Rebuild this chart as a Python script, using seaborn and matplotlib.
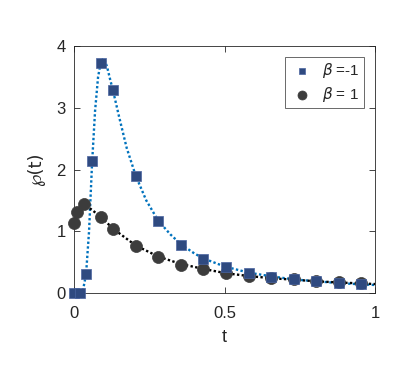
import matplotlib
matplotlib.use("Agg")
import matplotlib.pyplot as plt
import seaborn as sns
import pandas as pd

# beta = -1 markers
t_sq = [0.0, 0.02, 0.04, 0.06, 0.09, 0.13, 0.205, 0.28, 0.355, 0.43, 0.505, 0.58, 0.655, 0.73, 0.805, 0.88, 0.955]
p_sq = [0.0, 0.0, 0.30, 2.13, 3.72, 3.28, 1.90, 1.16, 0.78, 0.55, 0.42, 0.32, 0.26, 0.22, 0.19, 0.165, 0.14]
# beta = 1 markers
t_ci = [0.0, 0.01, 0.034, 0.09, 0.13, 0.205, 0.28, 0.355, 0.43, 0.505, 0.58, 0.655, 0.73, 0.805, 0.88, 0.955]
p_ci = [1.13, 1.31, 1.44, 1.23, 1.03, 0.76, 0.58, 0.46, 0.39, 0.32, 0.275, 0.24, 0.22, 0.19, 0.175, 0.155]
# dotted curves
t_bl = [0.0, 0.02, 0.03, 0.04, 0.05, 0.06, 0.07, 0.08, 0.09, 0.10, 0.11, 0.12, 0.13, 0.15, 0.175, 0.205, 0.24,
        0.28, 0.32, 0.355, 0.40, 0.43, 0.50, 0.58, 0.655, 0.73, 0.805, 0.88, 0.955, 1.0]
p_bl = [0.0, 0.0, 0.05, 0.30, 1.00, 2.10, 2.95, 3.50, 3.76, 3.80, 3.66, 3.46, 3.27, 2.85, 2.35, 1.90, 1.50,
        1.17, 0.95, 0.79, 0.64, 0.56, 0.43, 0.33, 0.27, 0.22, 0.19, 0.16, 0.14, 0.13]
t_bk = [0.04, 0.09, 0.13, 0.205, 0.28, 0.355, 0.43, 0.505, 0.58, 0.655, 0.73, 0.805, 0.88, 0.955, 1.0]
p_bk = [1.42, 1.23, 1.04, 0.77, 0.59, 0.47, 0.39, 0.32, 0.275, 0.24, 0.215, 0.19, 0.17, 0.155, 0.145]

sns.set_theme(style="white")
plt.rcParams['font.family'] = ['Liberation Sans', 'DejaVu Sans']
plt.rcParams['mathtext.fontset'] = 'dejavusans'

fig = plt.figure(figsize=(4.07, 3.66), dpi=100)
ax = fig.add_axes([74/407, 1-293/366, (375-74)/407, (293-46)/366])

sns.lineplot(x=t_bl, y=p_bl, ax=ax, color="#0072BD", linestyle=(0, (1, 1)), linewidth=1.7, zorder=2)
sns.lineplot(x=t_bk, y=p_bk, ax=ax, color="black", linestyle=(0, (1, 1)), linewidth=1.7, zorder=2)
sns.scatterplot(x=t_sq, y=p_sq, ax=ax, marker="s", s=45, color="#2F4A80", edgecolor="#4a64a0",
                linewidth=0.5, zorder=4, label=r"$\beta$ =-1", clip_on=False)
sns.scatterplot(x=t_ci, y=p_ci, ax=ax, marker="o", s=75, color="#3c3c3c", edgecolor="#3c3c3c",
                linewidth=0.5, zorder=3, label=r"$\beta$ = 1", clip_on=False)

ax.set_xlim(0, 1)
ax.set_ylim(0, 4)
ax.set_xticks([0, 0.5, 1])
ax.set_xticklabels(["0", "0.5", "1"])
ax.set_yticks([0, 1, 2, 3, 4])
ax.tick_params(direction="in", length=4, width=0.6, color="#262626", labelsize=12,
               top=True, right=True, bottom=True, left=True, labelcolor="#262626")
ax.tick_params(axis="x", pad=9)
ax.tick_params(axis="y", pad=6)
for s in ax.spines.values():
    s.set_visible(True)
    s.set_color("#262626")
    s.set_linewidth(0.6)
ax.set_xlabel("t", fontsize=13, color="#262626", labelpad=6)
ax.set_ylabel("℘(t)", fontsize=13, color="#262626", labelpad=8, family=['DejaVu Sans'])

leg = ax.legend(loc="upper right", fontsize=11, frameon=True, fancybox=False, edgecolor="#262626",
                handletextpad=0.5, borderpad=0.3, labelspacing=0.3, borderaxespad=0.7,
                markerscale=0.75, handlelength=1.6)
leg.get_frame().set_linewidth(0.6)

fig.savefig("out.png", dpi=100, facecolor="white")
